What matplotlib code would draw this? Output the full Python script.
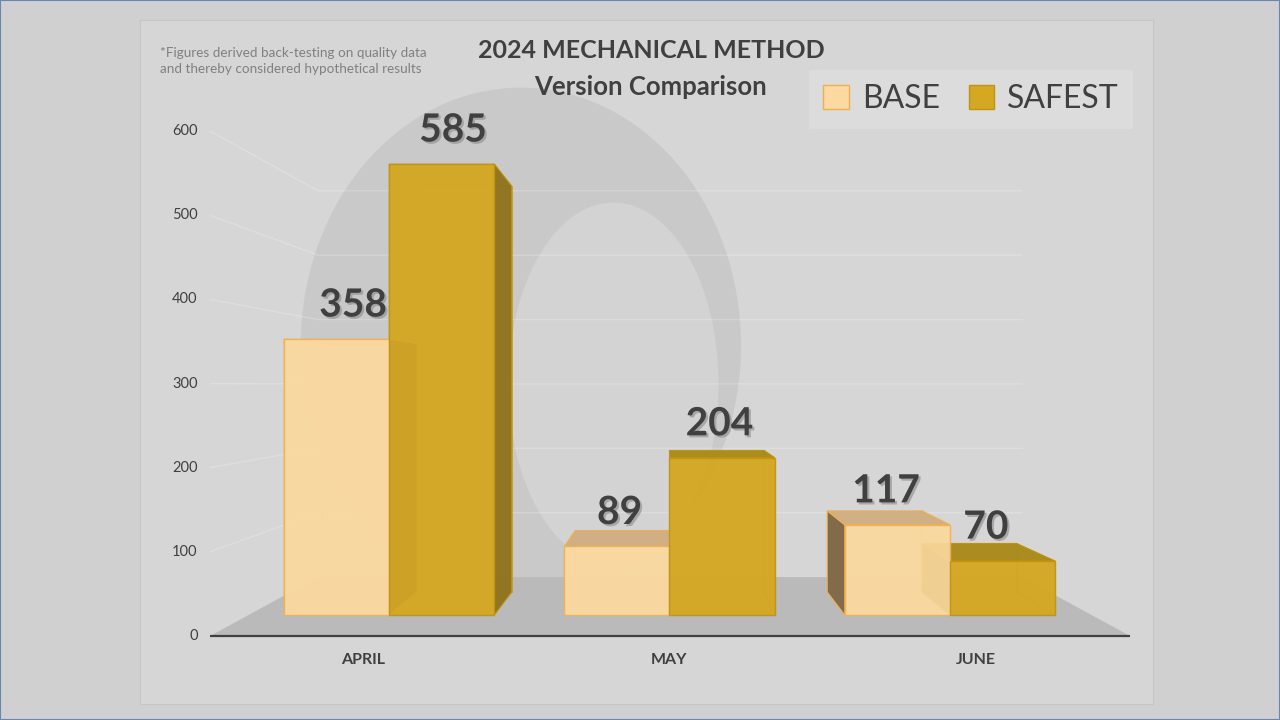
import matplotlib
matplotlib.use('Agg')
import matplotlib.pyplot as plt
import matplotlib.patheffects as pe
from matplotlib.patches import Polygon, Patch, Rectangle, Ellipse

# data
months = ['APRIL', 'MAY', 'JUNE']
series_names = ['BASE', 'SAFEST']
base = [358, 89, 117]
safest = [585, 204, 70]
y_ticks = [0, 100, 200, 300, 400, 500, 600]

title_1 = '2024 MECHANICAL METHOD'
title_2 = 'Version Comparison'
note = '*Figures derived back-testing on quality data\nand thereby considered hypothetical results'

# colours per series: front, edge, side, top, hidden
colours = {
    'BASE':   dict(front='#fbd9a0', edge='#f0b04f', side='#7d6646', top='#cfae83', hidden='#f1cd93'),
    'SAFEST': dict(front='#d5a823', edge='#bf9410', side='#8e7420', top='#a98a1c', hidden='#c99e1c'),
}
text_col = '#404040'
font = ['Lato', 'DejaVu Sans']

# perspective (everything projected towards one vanishing point)
xv, yv = 1.0, 298.0
s_front, s_back = 1.0, 0.9          # bar front / back planes
s_floor_f, s_floor_b = 1.091, 0.835  # floor front / back edges
x_left, x_right = -0.501, 2.505      # floor extent in the front plane
bar_w = 0.375


def proj(x, y, s):
    return (xv + s * (x - xv), yv + s * (y - yv))


fig = plt.figure(figsize=(12.8, 7.2), dpi=100)
fig.patch.set_facecolor('#d0d0d0')
fig.patches.append(Rectangle((0, 0), 1, 1, transform=fig.transFigure,
                             fill=False, edgecolor='#6a86b8', lw=1.5))

ax = fig.add_axes([140 / 1280, 16 / 720, 1013 / 1280, 684 / 720])
ax.set_xlim(-0.888, 2.724)
ax.set_ylim(-115.4, 771.7)
ax.set_facecolor('#d6d6d6')
for sp in ax.spines.values():
    sp.set_color('#c6c6c6')
ax.set_xticks([])
ax.set_yticks([])

# faint backdrop silhouette (picture behind the chart)
ax.add_patch(Ellipse((0.47, 350), 1.57, 668, facecolor='#c9c9c9', edgecolor='none', zorder=0.2))
ax.add_patch(Ellipse((0.8, 300), 0.75, 470, facecolor='#d3d3d3', edgecolor='none', zorder=0.3))

# floor
floor = [proj(x_left, 0, s_floor_f), proj(x_right, 0, s_floor_f),
         proj(x_right, 0, s_floor_b), proj(x_left, 0, s_floor_b)]
ax.add_patch(Polygon(floor, closed=True, facecolor='#bababa', edgecolor='none', zorder=1))
fx, fy = zip(floor[0], floor[1])
ax.plot(fx, fy, color=text_col, lw=1.6, zorder=2, solid_capstyle='butt')

# gridlines on the walls and tick labels
for v in y_ticks:
    p0 = proj(x_left, v, s_floor_f)
    ax.text(p0[0] - 0.045, p0[1], str(v), ha='right', va='center',
            fontsize=10.5, color=text_col, family=font)
    if v == 0:
        continue
    p1 = proj(x_left, v, s_floor_b)
    p2 = proj(x_right, v, s_floor_b)
    ax.plot([p0[0], p1[0], p2[0]], [p0[1], p1[1], p2[1]],
            color='white', alpha=0.2, lw=1, zorder=0.5)


def draw_bar(x0, x1, h, c):
    F = lambda x, y: proj(x, y, s_front)
    B = lambda x, y: proj(x, y, s_back)
    faces = {
        'back':   ([B(x0, 0), B(x1, 0), B(x1, h), B(x0, h)], False),
        'bottom': ([F(x0, 0), F(x1, 0), B(x1, 0), B(x0, 0)], False),
        'left':   ([F(x0, 0), F(x0, h), B(x0, h), B(x0, 0)], x0 > xv),
        'right':  ([F(x1, 0), F(x1, h), B(x1, h), B(x1, 0)], x1 < xv),
        'top':    ([F(x0, h), F(x1, h), B(x1, h), B(x0, h)], h < yv),
    }
    for name, (pts, visible) in faces.items():
        if visible:
            fc = c['top'] if name == 'top' else c['side']
            ax.add_patch(Polygon(pts, closed=True, facecolor=fc, edgecolor=c['edge'],
                                 lw=0.8, alpha=0.95, zorder=4))
        else:
            ax.add_patch(Polygon(pts, closed=True, facecolor=c['hidden'], edgecolor=c['edge'],
                                 lw=0.6, alpha=0.6, zorder=3))
    front = [F(x0, 0), F(x1, 0), F(x1, h), F(x0, h)]
    ax.add_patch(Polygon(front, closed=True, facecolor=c['front'], edgecolor=c['edge'],
                         lw=1.0, alpha=0.9, zorder=5))


shadow = [pe.withSimplePatchShadow(offset=(1.5, -1.5), shadow_rgbFace='#8a8a8a', alpha=0.6)]

for i, month in enumerate(months):
    for j, (name, vals) in enumerate(zip(series_names, [base, safest])):
        x0 = i - bar_w + j * bar_w
        x1 = x0 + bar_w
        draw_bar(x0, x1, vals[i], colours[name])
        lx, _ = proj((x0 + x1) / 2, 0, 0.95)
        ax.text(lx, vals[i] + 44, str(vals[i]), ha='center', va='center',
                fontsize=28, fontweight='bold', color=text_col, family=font,
                path_effects=shadow, zorder=6)
    cx, cy = proj(i, 0, s_floor_f)
    ax.text(cx, cy - 31, month, ha='center', va='center', fontsize=11.5,
            fontweight='bold', color=text_col, family=font)

# titles and note
fig.text(651 / 1280, 1 - 51 / 720, title_1, ha='center', va='center', fontsize=18,
         fontweight='bold', color=text_col, family=font)
fig.text(651 / 1280, 1 - 87 / 720, title_2, ha='center', va='center', fontsize=18.5,
         fontweight='bold', color=text_col, family=font)
fig.text(160 / 1280, 1 - 61 / 720, note, ha='left', va='center', fontsize=9.7,
         color='#808080', family=font, linespacing=1.45)

handles = [Patch(facecolor=colours[n]['front'], edgecolor=colours[n]['edge'], label=n)
           for n in series_names]
leg = ax.legend(handles=handles, loc='upper right', ncol=2,
                bbox_to_anchor=(1133 / 1280, 1 - 70 / 720), bbox_transform=fig.transFigure,
                borderaxespad=0, frameon=True, fancybox=False,
                facecolor='#dcdcdc', edgecolor='none', framealpha=1,
                handlelength=0.8, handleheight=0.8, handletextpad=0.4,
                columnspacing=0.9, borderpad=0.45, prop=dict(family=font, size=23))
for t in leg.get_texts():
    t.set_color(text_col)
leg.set_zorder(7)

fig.savefig('out.png', dpi=100, facecolor=fig.get_facecolor())
